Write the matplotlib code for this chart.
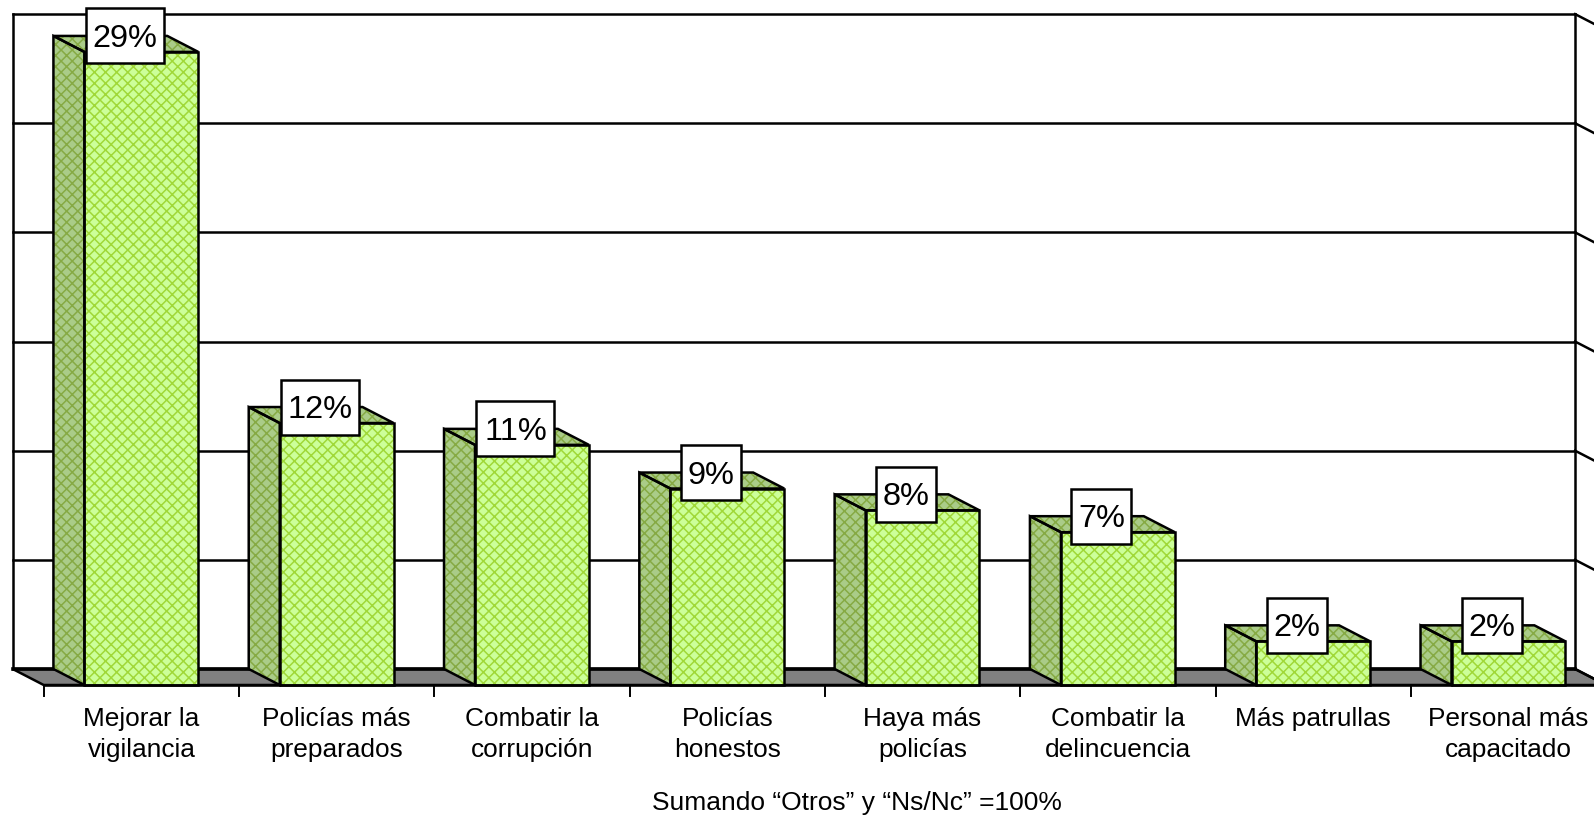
import matplotlib
matplotlib.use('Agg')
from matplotlib import pyplot as plt
from matplotlib.patches import Polygon, Rectangle

categories = ['Mejorar la\nvigilancia', 'Policías más\npreparados', 'Combatir la\ncorrupción',
              'Policías\nhonestos', 'Haya más\npolicías', 'Combatir la\ndelincuencia',
              'Más patrullas', 'Personal más\ncapacitado']
values = [29, 12, 11, 9, 8, 7, 2, 2]
y_ticks = [0, 5, 10, 15, 20, 25, 30]
note = 'Sumando “Otros” y “Ns/Nc” =100%'

plt.rcParams['font.family'] = ['Liberation Sans', 'DejaVu Sans']
plt.rcParams['hatch.linewidth'] = 1.1

W, H = 1594, 817
x0, cat_w = 43.7, 195.3      # pixels of the front plane
y0, unit = 685, 21.83
dx = 31 / cat_w              # depth of the 3d box, in data units
dy = 16 / unit
bar_w = 0.583
lw = 1.8

fig = plt.figure(dpi=100, figsize=(W / 100, H / 100))
ax = fig.add_axes([0, 0, 1, 1])
ax.set_xlim(-x0 / cat_w, (W - x0) / cat_w)
ax.set_ylim((y0 - H) / unit, y0 / unit)
ax.axis('off')

n = len(categories)

# floor
ax.add_patch(Polygon([(0, 0), (n, 0), (n - dx, dy), (-dx, dy)], fc='#808080', ec='black', lw=lw, zorder=1))

# back wall and grid
for v in y_ticks:
    ax.plot([-dx, n - dx], [v + dy, v + dy], c='black', lw=2.6 if v == 0 else lw, zorder=2)
    ax.plot([n - dx, n], [v + dy, v], c='black', lw=lw, zorder=2)
ax.plot([-dx, -dx], [dy, 30 + dy], c='black', lw=lw, zorder=2)
ax.plot([n - dx, n - dx], [dy, 30 + dy], c='black', lw=lw, zorder=2)

# bars
for i, v in enumerate(values):
    l = i + 0.5 - bar_w / 2
    r = i + 0.5 + bar_w / 2
    side = [(l, 0), (l, v), (l - dx, v + dy), (l - dx, dy)]
    top = [(l, v), (r, v), (r - dx, v + dy), (l - dx, v + dy)]
    front = [(l, 0), (r, 0), (r, v), (l, v)]
    ax.add_patch(Polygon(side, fc='#aacc88', ec='#86aa44', hatch='xxx', lw=0, zorder=3))
    ax.add_patch(Polygon(top, fc='#aacc88', ec='#86aa44', hatch='xxx', lw=0, zorder=3))
    ax.add_patch(Polygon(front, fc='#ccff99', ec='#a0d838', hatch='xxx', lw=0, zorder=3))
    for pts in (side, top, front):
        ax.add_patch(Polygon(pts, fc='none', ec='black', lw=lw, zorder=4))
    # value label box
    cx = i + 0.5 - dx / 2 - 1 / cat_w
    box_w = (78 if v >= 10 else 60) / cat_w
    box_h = 55 / unit
    ax.add_patch(Rectangle((cx - box_w / 2, v + dy - box_h / 2), box_w, box_h, fc='white', ec='black', lw=lw, zorder=5))
    ax.text(cx, v + dy - 3 / unit, '%d%%' % v, fontsize=23.4, ha='center', va='center', zorder=6)

# front axis and ticks
ax.plot([0, n], [0, 0], c='black', lw=lw, zorder=4)
for i in range(n):
    ax.plot([i, i], [0, -11 / unit], c='black', lw=1.4, zorder=2)
    ax.text(i + 0.5, -1.0, categories[i], fontsize=18.9, ha='center', va='top', linespacing=1.38)

ax.text((856.5 - x0) / cat_w, -5.41, note, fontsize=19, ha='center', va='center')

fig.savefig('out.png', dpi=100)
